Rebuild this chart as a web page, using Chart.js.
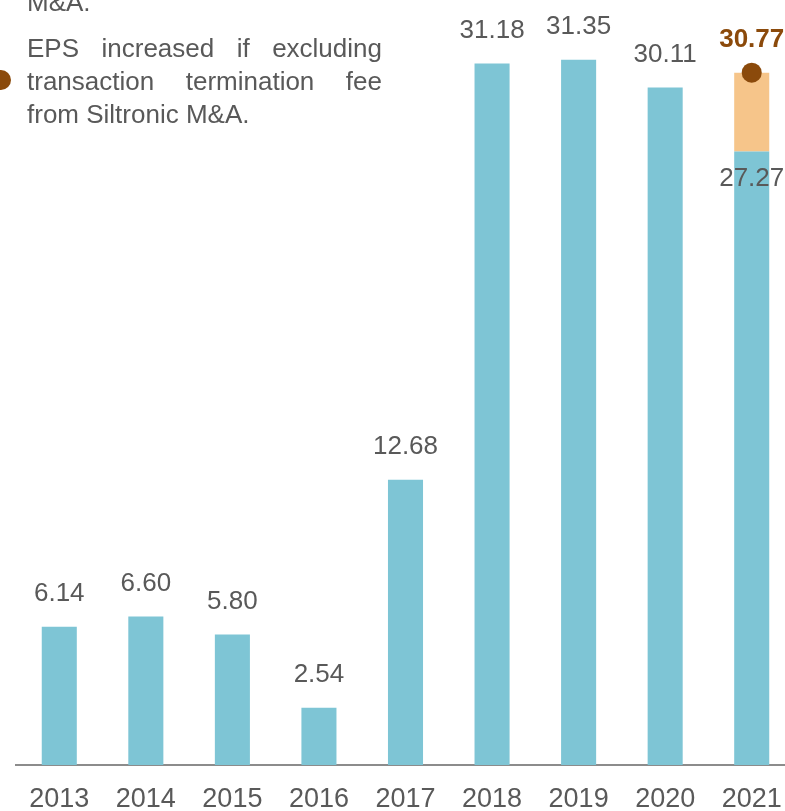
<!DOCTYPE html>
<html>
<head>
<meta charset="utf-8">
<script src="https://cdn.jsdelivr.net/npm/chart.js@4"></script>
<style>
  html, body { margin: 0; padding: 0; overflow: hidden; background: #fff; }
  #wrap { position: relative; width: 785px; height: 811px; overflow: hidden; }
  #chartBox { position: absolute; left: 0; top: 0; width: 800px; height: 811px; }
  #note { position: absolute; left: 27px; top: -14px; width: 355px;
    font-family: "Liberation Sans", Arial, sans-serif; font-size: 26px;
    line-height: 33px; color: #595959; text-align: justify; }
  #note p { margin: 0 0 13px 0; }
  #dot { position: absolute; left: -9px; top: 70px; width: 20px; height: 20px;
    border-radius: 50%; background: #8b4a0b; }
</style>
</head>
<body>
<div id="wrap">
  <div id="chartBox"><canvas id="eps" width="800" height="811"></canvas></div>
  <div id="note">
    <p>M&amp;A.</p>
    <p>EPS increased if excluding transaction termination fee from Siltronic M&amp;A.</p>
  </div>
  <div id="dot"></div>
</div>
<script>
var years = ['2013', '2014', '2015', '2016', '2017', '2018', '2019', '2020', '2021'];
var eps = [6.14, 6.60, 5.80, 2.54, 12.68, 31.18, 31.35, 30.11, 27.27];
var terminationFee = [0, 0, 0, 0, 0, 0, 0, 0, 3.50];
var epsExFee = [null, null, null, null, null, null, null, null, 30.77];

var grey = '#595959';
var brown = '#8b4a0b';

var valueLabels = {
  id: 'valueLabels',
  afterDatasetsDraw: function(chart) {
    var ctx = chart.ctx;
    var bars = chart.getDatasetMeta(0).data;
    var dots = chart.getDatasetMeta(2).data;
    var i;
    ctx.save();
    ctx.textAlign = 'center';
    ctx.textBaseline = 'middle';
    ctx.font = '26px "Liberation Sans", Arial, sans-serif';
    ctx.fillStyle = grey;
    for (i = 0; i < bars.length; i++) {
      var txt = eps[i].toFixed(2);
      if (epsExFee[i] !== null) {
        // reported value sits inside the bar, below its top
        ctx.fillText(txt, bars[i].x, bars[i].y + 27);
      } else {
        ctx.fillText(txt, bars[i].x, bars[i].y - 33);
      }
    }
    ctx.font = 'bold 26px "Liberation Sans", Arial, sans-serif';
    ctx.fillStyle = brown;
    for (i = 0; i < dots.length; i++) {
      if (epsExFee[i] === null) continue;
      ctx.fillText(epsExFee[i].toFixed(2), dots[i].x, dots[i].y - 33);
    }
    ctx.restore();
  }
};

new Chart(document.getElementById('eps'), {
  type: 'bar',
  data: {
    labels: years,
    datasets: [
      {
        label: 'EPS',
        data: eps,
        backgroundColor: '#7ec5d5',
        stack: 'eps',
        order: 2
      },
      {
        label: 'Termination fee',
        data: terminationFee,
        backgroundColor: '#f6c58a',
        stack: 'eps',
        order: 2
      },
      {
        type: 'line',
        label: 'EPS excl. fee',
        data: epsExFee,
        showLine: false,
        pointRadius: 10,
        pointHoverRadius: 10,
        pointBackgroundColor: brown,
        pointBorderWidth: 0,
        order: 1
      }
    ]
  },
  options: {
    responsive: false,
    animation: false,
    barPercentage: 0.405,
    categoryPercentage: 1,
    layout: { autoPadding: false, padding: { left: 16, right: 5, top: 0, bottom: 0 } },
    plugins: {
      legend: { display: false },
      tooltip: { enabled: false }
    },
    scales: {
      x: {
        stacked: true,
        grid: { display: false },
        border: { display: true, color: '#8c8c8c', width: 2 },
        ticks: {
          color: grey,
          padding: 13,
          font: { family: '"Liberation Sans", Arial, sans-serif', size: 27, lineHeight: 1 }
        },
        afterFit: function(scale) { scale.height = 46; }
      },
      y: {
        stacked: true,
        display: false,
        min: 0,
        max: 34
      }
    }
  },
  plugins: [valueLabels]
});
</script>
</body>
</html>
